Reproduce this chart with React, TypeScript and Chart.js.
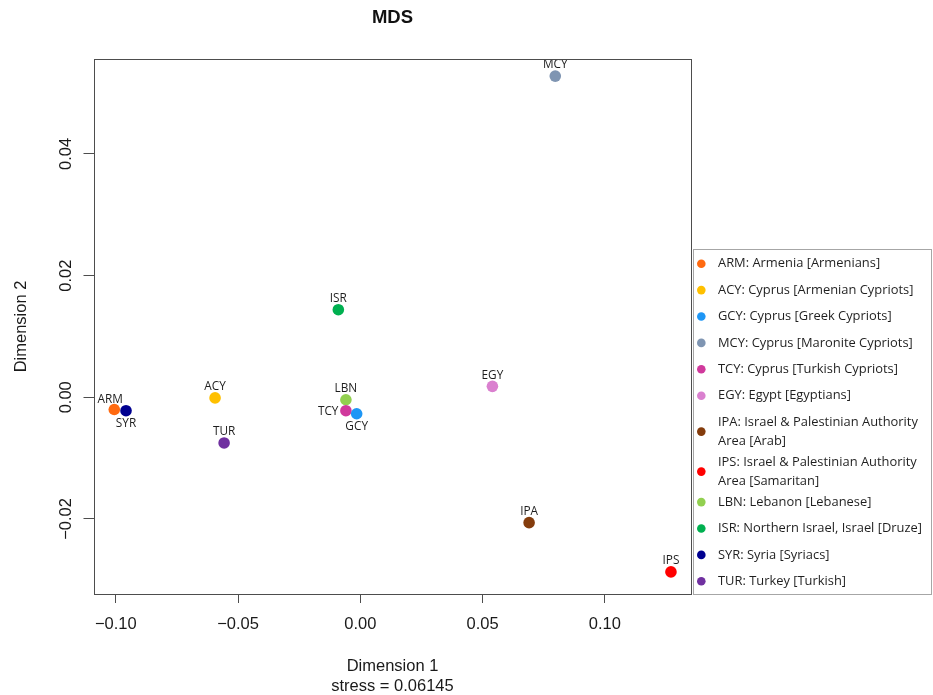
import { useEffect, useRef } from "react";
import { Chart, registerables } from "chart.js";

Chart.register(...registerables);

// ---- data ----
const codes = ["ARM", "ACY", "GCY", "MCY", "TCY", "EGY", "IPA", "IPS", "LBN", "ISR", "SYR", "TUR"];
const legendLabels: string[][] = [
  ["ARM: Armenia [Armenians]"],
  ["ACY: Cyprus [Armenian Cypriots]"],
  ["GCY: Cyprus [Greek Cypriots]"],
  ["MCY: Cyprus [Maronite Cypriots]"],
  ["TCY: Cyprus [Turkish Cypriots]"],
  ["EGY: Egypt [Egyptians]"],
  ["IPA: Israel & Palestinian Authority", "Area [Arab]"],
  ["IPS: Israel & Palestinian Authority", "Area [Samaritan]"],
  ["LBN: Lebanon [Lebanese]"],
  ["ISR: Northern Israel, Israel [Druze]"],
  ["SYR: Syria [Syriacs]"],
  ["TUR: Turkey [Turkish]"],
];
const dim1 = [-0.1006, -0.0594, -0.0015, 0.0797, -0.0059, 0.054, 0.069, 0.127, -0.0059, -0.009, -0.0958, -0.0557];
const dim2 = [-0.002, -0.0001, -0.0027, 0.0528, -0.0022, 0.0018, -0.0206, -0.0287, -0.0004, 0.0144, -0.0022, -0.0075];
const colors = [
  "#FF6A10", "#FFC000", "#1E96F5", "#7F95B2", "#D0399C", "#DA80CF",
  "#843C0C", "#FF0000", "#92D050", "#00B050", "#000090", "#7030A0",
];
const labelSide = ["topleft", "top", "bottom", "top", "left", "top", "top", "top", "top", "top", "bottom", "top"];
const xTickValues = [-0.1, -0.05, 0, 0.05, 0.1];
const yTickValues = [-0.02, 0, 0.02, 0.04];
const xRange = [-0.1091, 0.1354];
const yRange = [-0.03233, 0.05561];
const xTitle = ["Dimension 1", "stress = 0.06145"];
const yTitle = "Dimension 2";
const mainTitle = "MDS";

const fmt = (v: number) => {
  const s = Math.abs(v) < 1e-9 ? "0.00" : v.toFixed(2);
  return s.replace("-", "\u2212");
};

const boxPlugin = {
  id: "rbox",
  afterDraw(chart: any) {
    const { ctx, chartArea: a } = chart;
    ctx.save();
    ctx.strokeStyle = "#4d4d4d";
    ctx.lineWidth = 1;
    const l = Math.round(a.left) + 0.5;
    const t = Math.round(a.top) + 0.5;
    const r = Math.round(a.right) - 0.5;
    const b = Math.round(a.bottom) + 0.5;
    ctx.strokeRect(l, t, r - l, b - t);
    ctx.restore();
  },
};

const labelPlugin = {
  id: "ptlabels",
  afterDatasetsDraw(chart: any) {
    const { ctx } = chart;
    ctx.save();
    ctx.font = "11.8px 'Open Sans'";
    ctx.fillStyle = "#1e1e1e";
    chart.data.datasets.forEach((ds: any, i: number) => {
      const el = chart.getDatasetMeta(i).data[0];
      if (!el) return;
      const side = labelSide[i];
      let x = el.x;
      let y = el.y;
      ctx.textBaseline = "middle";
      ctx.textAlign = "center";
      if (side === "top") {
        y -= 11;
      } else if (side === "topleft") {
        x -= 4;
        y -= 9.5;
      } else if (side === "bottom") {
        y += 13;
      } else if (side === "left") {
        ctx.textAlign = "right";
        x -= 7.5;
        y += 1;
      }
      ctx.fillText(codes[i], x, y);
    });
    ctx.restore();
  },
};

const legendPlugin = {
  id: "boxlegend",
  afterDraw(chart: any) {
    const { ctx, chartArea: a } = chart;
    const left = Math.round(a.right) + 1.5;
    const top = 249.5;
    const width = 238;
    const height = 345;
    ctx.save();
    ctx.strokeStyle = "#a6a6a6";
    ctx.lineWidth = 1;
    ctx.strokeRect(left, top, width, height);
    ctx.font = "12.9px 'Open Sans'";
    ctx.textBaseline = "middle";
    ctx.textAlign = "left";
    let y = top + 14.2;
    const lineH = 19;
    chart.data.datasets.forEach((ds: any, i: number) => {
      const lines = legendLabels[i];
      const n = lines.length;
      const my = y + ((n - 1) * lineH) / 2;
      ctx.beginPath();
      ctx.fillStyle = ds.backgroundColor;
      ctx.arc(left + 7.8, my, 4.3, 0, Math.PI * 2);
      ctx.fill();
      ctx.fillStyle = "#1f1f1f";
      lines.forEach((t, k) => ctx.fillText(t, left + 24.5, y + k * lineH));
      y += n === 1 ? 26.4 : 40;
    });
    ctx.restore();
  },
};

export default function App() {
  const ref = useRef<HTMLCanvasElement>(null);
  useEffect(() => {
    document.body.style.margin = "0";
    const canvas = ref.current!;
    const tickFont = { family: "'Liberation Sans', Arial", size: 16.5 };
    const chart = new Chart(canvas, {
      type: "scatter",
      data: {
        datasets: codes.map((c, i) => ({
          label: c,
          data: [{ x: dim1[i], y: dim2[i] }],
          backgroundColor: colors[i],
          borderColor: colors[i],
          borderWidth: 0,
          pointRadius: 5.8,
          pointHoverRadius: 5.8,
        })),
      },
      options: {
        animation: false,
        responsive: false,
        devicePixelRatio: 1,
        layout: { padding: { left: 0, top: 0, right: 241.5, bottom: 0 } },
        plugins: {
          legend: { display: false },
          tooltip: { enabled: false },
          title: {
            display: true,
            text: mainTitle,
            fullSize: false,
            color: "#111111",
            font: { family: "'Liberation Sans', Arial", size: 18.5, weight: "bold" },
            padding: { top: 6.5, bottom: 30.3 },
          },
        },
        scales: {
          x: {
            type: "linear",
            min: xRange[0],
            max: xRange[1],
            afterBuildTicks: (s: any) => {
              s.ticks = xTickValues.map((v) => ({ value: v }));
            },
            afterFit: (s: any) => {
              s.height = 101;
            },
            grid: { drawOnChartArea: false, drawTicks: true, tickLength: 9, color: "#4d4d4d", lineWidth: 1 },
            border: { display: false },
            ticks: {
              autoSkip: false,
              maxRotation: 0,
              padding: 12,
              color: "#1a1a1a",
              font: tickFont,
              callback: (v: any) => fmt(Number(v)),
            },
            title: {
              display: true,
              text: xTitle,
              color: "#1a1a1a",
              font: { family: "'Liberation Sans', Arial", size: 16.5, lineHeight: "20px" },
              padding: { top: 0, bottom: -1.7 },
            },
          },
          y: {
            type: "linear",
            min: yRange[0],
            max: yRange[1],
            afterBuildTicks: (s: any) => {
              s.ticks = yTickValues.map((v) => ({ value: v }));
            },
            afterFit: (s: any) => {
              s.width = 93.5;
            },
            grid: { drawOnChartArea: false, drawTicks: true, tickLength: 10, color: "#4d4d4d", lineWidth: 1 },
            border: { display: false },
            ticks: {
              autoSkip: false,
              minRotation: 90,
              maxRotation: 90,
              crossAlign: "center",
              padding: -4,
              color: "#1a1a1a",
              font: tickFont,
              callback: (v: any) => fmt(Number(v)),
            },
            title: {
              display: true,
              text: yTitle,
              color: "#1a1a1a",
              font: { family: "'Liberation Sans', Arial", size: 16.5 },
              padding: { top: 12, bottom: 0 },
            },
          },
        },
      } as any,
      plugins: [boxPlugin, labelPlugin, legendPlugin],
    });
    return () => chart.destroy();
  }, []);
  return (
    <canvas
      ref={ref}
      width={933}
      height={695}
      style={{ display: "block", width: 933, height: 695 }}
    />
  );
}
